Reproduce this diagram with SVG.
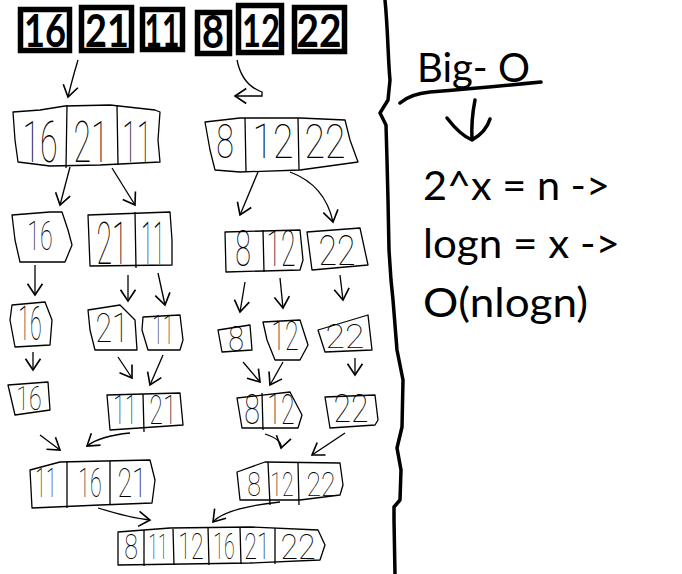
<svg xmlns="http://www.w3.org/2000/svg" width="682" height="574" viewBox="0 0 682 574">
<defs>
<style>
.bx{fill:none;stroke:#000;stroke-width:1.3;stroke-linejoin:round}
.dv{fill:none;stroke:#000;stroke-width:1.3}
.hd{font-family:Roboto,"DejaVu Sans","Liberation Sans",sans-serif;font-weight:100;fill:#000;text-anchor:middle}
.tb{fill:#fff;stroke:#000;stroke-width:5.5}
.tt{font-family:Lato,"Liberation Sans",Arial,sans-serif;font-weight:bold;font-size:45px;fill:#000;text-anchor:middle}
.ct{fill:none;stroke:#000;stroke-width:1.3;marker-end:url(#ah)}
.rt{font-family:Lato,"Liberation Sans",Arial,sans-serif;font-size:40px;fill:#000}
.thick{fill:none;stroke:#000;stroke-width:3.5;stroke-linecap:round;stroke-linejoin:round}
</style>
<marker id="ah" markerUnits="userSpaceOnUse" markerWidth="20" markerHeight="20" refX="0" refY="0" viewBox="-12 -8 14 16" orient="auto">
<path d="M-9,-6 L0,0 L-9,6" fill="none" stroke="#000" stroke-width="1.3"/>
</marker>
</defs>
<rect width="682" height="574" fill="#fff"/>

<!-- top row -->
<g id="t16"><rect class="tb" x="20.5" y="9.5" width="49" height="41"/><text class="tt" x="45" y="47" textLength="42" lengthAdjust="spacingAndGlyphs">16</text></g>
<g id="t21"><rect class="tb" x="81.5" y="7.5" width="50" height="43"/><text class="tt" x="107" y="47" textLength="44" lengthAdjust="spacingAndGlyphs">21</text></g>
<g id="t11"><rect class="tb" x="142.5" y="9.5" width="40" height="40"/><text class="tt" x="162" y="47" textLength="35" lengthAdjust="spacingAndGlyphs">11</text></g>
<g id="t8"><rect class="tb" x="197.5" y="12.5" width="32" height="41"/><text class="tt" x="213" y="48" textLength="22" lengthAdjust="spacingAndGlyphs">8</text></g>
<g id="t12"><rect class="tb" x="238.5" y="5.5" width="43" height="47"/><text class="tt" x="261" y="47" textLength="38" lengthAdjust="spacingAndGlyphs">12</text></g>
<g id="t22"><rect class="tb" x="294.5" y="7.5" width="50" height="44"/><text class="tt" x="319" y="47" textLength="45" lengthAdjust="spacingAndGlyphs">22</text></g>

<!-- level 1 -->
<g id="l1a">
<path class="bx" d="M13,112 L40,110 L65,106 L110,105 L155,110 L160,112 L158,140 L160,162 L100,165 L50,166 L18,162 L15,140 Z"/>
<path class="dv" d="M67,105 L66,168 M117,105 L118,165"/>
<text class="hd" font-size="58" transform="matrix(0.553 0 0 1 40 162)">16</text>
<text class="hd" font-size="58" transform="matrix(0.553 0 0 1 91 162)">21</text>
<text class="hd" font-size="58" transform="matrix(0.461 0 0 1 137 162)">11</text>
</g>
<g id="l1b">
<path class="bx" d="M205,122 L240,118 L300,118 L345,120 L350,140 L358,162 L300,170 L240,172 L215,170 L210,150 Z"/>
<path class="dv" d="M245,118 L246,172 M298,118 L299,170"/>
<text class="hd" font-size="48" transform="matrix(0.668 0 0 1 225 158)">8</text>
<text class="hd" font-size="48" transform="matrix(0.779 0 0 1 273 158)">12</text>
<text class="hd" font-size="48" transform="matrix(0.779 0 0 1 325 158)">22</text>
</g>

<!-- level 2 -->
<g id="l2a">
<path class="bx" d="M12,215 L50,212 L62,212 L68,230 L72,245 L65,262 L20,262 L15,240 Z"/>
<text class="hd" font-size="40" transform="matrix(0.579 0 0 1 40 250)">16</text>
</g>
<g id="l2b">
<path class="bx" d="M88,215 L170,212 L172,240 L172,265 L90,266 Z"/>
<path class="dv" d="M135,212 L136,268"/>
<text class="hd" font-size="60" transform="matrix(0.475 0 0 1 112 264)">21</text>
<text class="hd" font-size="60" transform="matrix(0.356 0 0 1 153 264)">11</text>
</g>
<g id="l2c">
<path class="bx" d="M225,232 L300,230 L303,260 L300,270 L226,272 Z"/>
<path class="dv" d="M263,230 L264,272"/>
<text class="hd" font-size="50" transform="matrix(0.57 0 0 1 243 266)">8</text>
<text class="hd" font-size="50" transform="matrix(0.534 0 0 1 281 266)">12</text>
</g>
<g id="l2d">
<path class="bx" d="M307,232 L360,228 L368,265 L312,270 Z"/>
<text class="hd" font-size="42" transform="matrix(0.805 0 0 1 337 265)">22</text>
</g>

<!-- level 3 -->
<g id="l3a">
<path class="bx" d="M12,305 L45,302 L52,320 L50,345 L15,347 L10,320 Z"/>
<text class="hd" font-size="48" transform="matrix(0.445 0 0 1 30 340)">16</text>
</g>
<g id="l3b">
<path class="bx" d="M88,310 L120,305 L135,320 L137,350 L95,350 L90,330 Z"/>
<text class="hd" font-size="40" transform="matrix(0.757 0 0 1 112 342)">21</text>
</g>
<g id="l3c">
<path class="bx" d="M143,317 L180,315 L183,340 L180,350 L148,350 L142,330 Z"/>
<text class="hd" font-size="40" transform="matrix(0.49 0 0 1 163 344)">11</text>
</g>
<g id="l3d">
<path class="bx" d="M218,330 L250,325 L252,350 L222,352 Z"/>
<text class="hd" font-size="36" transform="matrix(0.792 0 0 1 236 351)">8</text>
</g>
<g id="l3e">
<path class="bx" d="M263,322 L300,320 L308,345 L300,360 L275,360 L267,340 Z"/>
<text class="hd" font-size="40" transform="matrix(0.624 0 0 1 285 350)">12</text>
</g>
<g id="l3f">
<path class="bx" d="M318,330 L368,315 L372,350 L325,352 Z"/>
<text class="hd" font-size="34" transform="matrix(1.047 0 0 1 345 348)">22</text>
</g>

<!-- level 4 -->
<g id="l4a">
<path class="bx" d="M8,385 L48,382 L50,410 L15,415 Z"/>
<text class="hd" font-size="34" transform="matrix(0.681 0 0 1 29 410)">16</text>
</g>
<g id="l4b">
<path class="bx" d="M107,395 L180,393 L183,425 L110,430 Z"/>
<path class="dv" d="M143,394 L144,432"/>
<text class="hd" font-size="40" transform="matrix(0.535 0 0 1 125 424)">11</text>
<text class="hd" font-size="40" transform="matrix(0.624 0 0 1 163 424)">21</text>
</g>
<g id="l4c">
<path class="bx" d="M237,398 L290,392 L302,415 L298,428 L242,428 Z"/>
<path class="dv" d="M262,393 L263,430"/>
<text class="hd" font-size="42" transform="matrix(0.678 0 0 1 252 424)">8</text>
<text class="hd" font-size="42" transform="matrix(0.593 0 0 1 281 424)">12</text>
</g>
<g id="l4d">
<path class="bx" d="M325,397 L375,395 L378,420 L375,425 L330,428 Z"/>
<text class="hd" font-size="38" transform="matrix(0.843 0 0 1 351 422)">22</text>
</g>

<!-- level 5 -->
<g id="l5a">
<path class="bx" d="M30,470 L60,462 L150,460 L155,480 L152,503 L100,505 L32,508 Z"/>
<path class="dv" d="M67,461 L67,508 M110,461 L110,505"/>
<text class="hd" font-size="40" transform="matrix(0.49 0 0 1 46 497)">11</text>
<text class="hd" font-size="40" transform="matrix(0.535 0 0 1 90 497)">16</text>
<text class="hd" font-size="40" transform="matrix(0.668 0 0 1 132 497)">21</text>
</g>
<g id="l5b">
<path class="bx" d="M237,472 L265,462 L340,463 L343,485 L340,495 L300,500 L240,500 Z"/>
<path class="dv" d="M268,462 L270,505 M298,463 L299,505"/>
<text class="hd" font-size="34" transform="matrix(0.733 0 0 1 254 496)">8</text>
<text class="hd" font-size="34" transform="matrix(0.628 0 0 1 282 496)">12</text>
<text class="hd" font-size="34" transform="matrix(0.785 0 0 1 321 496)">22</text>
</g>

<!-- final -->
<g id="final">
<path class="bx" d="M118,532 L170,528 L250,527 L318,530 L325,545 L320,560 L250,563 L118,565 Z"/>
<path class="dv" d="M144,530 L144,566 M173,529 L174,565 M208,527 L209,565 M240,527 L241,564 M275,528 L275,564"/>
<text class="hd" font-size="36" transform="matrix(0.693 0 0 1 131 559)">8</text>
<text class="hd" font-size="36" transform="matrix(0.495 0 0 1 158 559)">11</text>
<text class="hd" font-size="36" transform="matrix(0.644 0 0 1 191 559)">12</text>
<text class="hd" font-size="36" transform="matrix(0.545 0 0 1 224 559)">16</text>
<text class="hd" font-size="36" transform="matrix(0.644 0 0 1 257 559)">21</text>
<text class="hd" font-size="36" transform="matrix(0.891 0 0 1 298 559)">22</text>
</g>

<!-- connectors -->
<g id="connectors">
<path class="ct" d="M78,60 Q72,80 68,97"/>
<path class="ct" d="M237,60 Q242,85 262,92 L262,96 L235,96"/>
<path class="ct" d="M70,167 L60,205"/>
<path class="ct" d="M112,168 L135,205"/>
<path class="ct" d="M258,172 L240,215"/>
<path class="ct" d="M290,172 Q325,185 333,222"/>
<path class="ct" d="M35,265 L35,295"/>
<path class="ct" d="M128,275 L128,301"/>
<path class="ct" d="M158,273 L165,305"/>
<path class="ct" d="M245,282 L240,312"/>
<path class="ct" d="M280,278 L283,308"/>
<path class="ct" d="M340,275 L343,300"/>
<path class="ct" d="M33,352 L33,370"/>
<path class="ct" d="M118,357 L132,378"/>
<path class="ct" d="M163,355 L150,385"/>
<path class="ct" d="M243,362 L260,382"/>
<path class="ct" d="M283,362 L270,385"/>
<path class="ct" d="M355,358 L355,375"/>
<path class="ct" d="M40,435 L60,450"/>
<path class="ct" d="M130,433 Q100,436 87,446"/>
<path class="ct" d="M265,434 Q283,440 281,448"/>
<path class="ct" d="M345,433 L312,455"/>
<path class="ct" d="M98,508 Q130,518 150,520"/>
<path class="ct" d="M280,502 Q225,508 213,522"/>
</g>

<!-- divider and Big-O -->
<path class="thick" d="M385,0 C388,30 388,60 390,80 L388,100 L380,113 L386,125 L387,160 L388,200 L389,250 L391,280 L393,300 L397,350 L403,380 L402,427 L397,448 L401,470 L400,500 L394,507 L394,520 L395,574"/>
<g id="bigo">
<text class="rt" x="417" y="82" textLength="113" lengthAdjust="spacingAndGlyphs">Big- O</text>
<path class="thick" d="M400,103 Q410,94 430,92 Q480,88 541,82"/>
<path class="thick" d="M475,100 Q471,120 472,140 M447,118 Q460,135 472,140 Q486,132 490,119"/>
<text class="rt" x="423" y="200" textLength="187" lengthAdjust="spacingAndGlyphs">2^x = n -&gt;</text>
<text class="rt" x="423" y="258" textLength="197" lengthAdjust="spacingAndGlyphs">logn = x -&gt;</text>
<text class="rt" x="423" y="317" textLength="165" lengthAdjust="spacingAndGlyphs">O(nlogn)</text>
</g>
</svg>
